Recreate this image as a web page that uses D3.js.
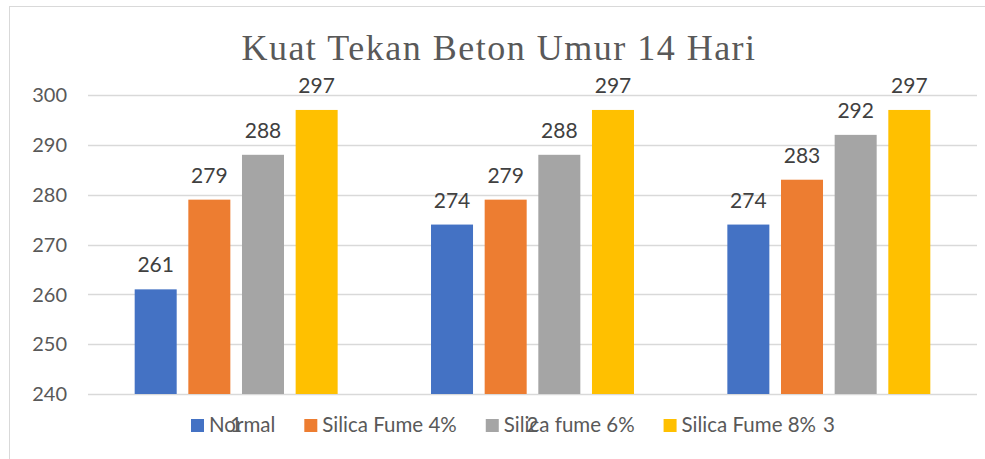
<!DOCTYPE html>
<html>
<head>
<meta charset="utf-8">
<script src="https://cdn.jsdelivr.net/npm/d3@7"></script>
<style>
  body { margin: 0; background: #fff; }
  svg { display: block; }
</style>
</head>
<body>
<div id="chart"></div>
<script>
// chart data
var categories = ["1", "2", "3"];
var seriesNames = ["Normal", "Silica Fume 4%", "Silica fume 6%", "Silica Fume 8%"];
var normal = [261, 274, 274];
var silica4 = [279, 279, 283];
var silica6 = [288, 288, 292];
var silica8 = [297, 297, 297];
var yTicks = [240, 250, 260, 270, 280, 290, 300];
var colors = ["#4472C4", "#ED7D31", "#A5A5A5", "#FFC000"];

var w = 985, h = 459;
var seriesValues = [normal, silica4, silica6, silica8];
var font = "Lato, 'Open Sans', sans-serif";

var svg = d3.select("#chart")
	.append("svg")
	.attr("width", w)
	.attr("height", h);

// chart frame (runs off the right and bottom edge)
svg.append("rect")
	.attr("x", 9.5)
	.attr("y", 6.5)
	.attr("width", 990)
	.attr("height", 470)
	.style("fill", "none")
	.style("stroke", "#d9d9d9")
	.style("stroke-width", 1);

var plot = { left: 88, right: 977, top: 95, bottom: 394 };

var y = d3.scaleLinear()
	.domain([240, 300])
	.range([plot.bottom, plot.top]);

var x0 = d3.scaleBand()
	.domain(categories)
	.range([plot.left, plot.right]);

var x1 = d3.scaleBand()
	.domain(seriesNames)
	.range([0, x0.bandwidth()])
	.paddingInner(0.217)
	.paddingOuter(0.87);

// gridlines
svg.append("g")
	.selectAll("line")
	.data(yTicks)
	.enter().append("line")
	.attr("x1", plot.left)
	.attr("x2", plot.right)
	.attr("y1", function(d) { return Math.round(y(d)) + 0.5; })
	.attr("y2", function(d) { return Math.round(y(d)) + 0.5; })
	.style("stroke", "#d9d9d9")
	.style("stroke-width", 1.5);

// y tick labels
svg.append("g")
	.selectAll("text")
	.data(yTicks)
	.enter().append("text")
	.attr("x", 67)
	.attr("y", function(d) { return y(d); })
	.attr("dy", "0.36em")
	.attr("text-anchor", "end")
	.style("font-family", font)
	.style("font-size", "20px")
	.style("fill", "#595959")
	.text(function(d) { return d; });

// build rows for the bars
var rows = [];
categories.forEach(function(c, i) {
	seriesNames.forEach(function(s, j) {
		rows.push({ cat: c, series: s, value: seriesValues[j][i], color: colors[j] });
	});
});

var bars = svg.append("g");
bars.selectAll("rect")
	.data(rows)
	.enter().append("rect")
	.attr("x", function(d) { return x0(d.cat) + x1(d.series); })
	.attr("y", function(d) { return y(d.value); })
	.attr("width", x1.bandwidth())
	.attr("height", function(d) { return y(240) - y(d.value); })
	.style("fill", function(d) { return d.color; });

// value labels
bars.selectAll("text")
	.data(rows)
	.enter().append("text")
	.attr("x", function(d) { return x0(d.cat) + x1(d.series) + x1.bandwidth() / 2; })
	.attr("y", function(d) { return y(d.value) - 17; })
	.attr("text-anchor", "middle")
	.style("font-family", font)
	.style("font-size", "21px")
	.style("fill", "#404040")
	.text(function(d) { return d.value; });

// title
svg.append("text")
	.attr("x", 499)
	.attr("y", 59.5)
	.attr("text-anchor", "middle")
	.style("font-family", "'Liberation Serif', 'DejaVu Serif', serif")
	.style("font-size", "36px")
	.style("letter-spacing", "1.5px")
	.style("fill", "#595959")
	.text("Kuat Tekan Beton Umur 14 Hari");

// legend
var legend = svg.append("g");
var lx = 191;
seriesNames.forEach(function(s, j) {
	legend.append("rect")
		.attr("x", lx)
		.attr("y", 419)
		.attr("width", 13)
		.attr("height", 13)
		.style("fill", colors[j]);
	var t = legend.append("text")
		.attr("x", lx + 18)
		.attr("y", 432)
		.style("font-family", font)
		.style("font-size", "20.5px")
		.style("fill", "#595959")
		.text(s);
	lx += 18 + t.node().getComputedTextLength() + 29;
});

// category labels (they sit on the legend row, as in the original)
svg.append("g")
	.selectAll("text")
	.data(categories)
	.enter().append("text")
	.attr("x", function(d) { return x0(d) + x0.bandwidth() / 2; })
	.attr("y", 432)
	.attr("text-anchor", "middle")
	.style("font-family", font)
	.style("font-size", "20.5px")
	.style("fill", "#595959")
	.text(function(d) { return d; });
</script>
</body>
</html>
